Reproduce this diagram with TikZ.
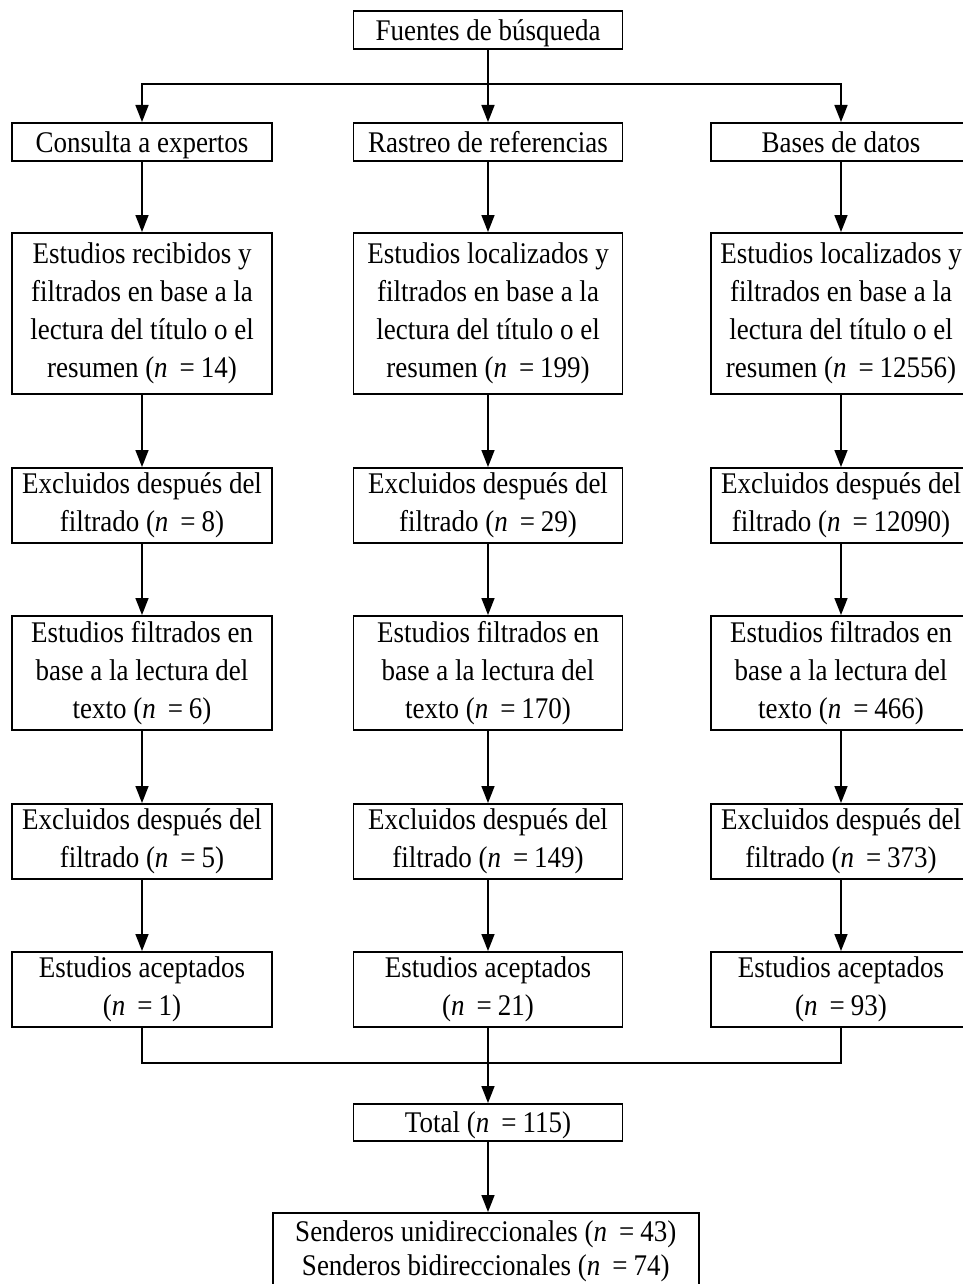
\documentclass[tikz,border=0pt]{standalone}
\usepackage{fontspec}
\setmainfont{Liberation Serif}[FakeStretch=0.9]
\usetikzlibrary{calc,arrows.meta}

\begin{document}
\begin{tikzpicture}[x=1pt, y=-1pt]
\def\nn#1{(\textit{n}\hspace{0.4em}=\hspace{0.2em}#1)}
%styles
\tikzstyle{box}=[rectangle, draw, line width=1.6pt, align=center, inner sep=0pt,
  font=\fontsize{30}{38}\selectfont, anchor=north, minimum width=260pt]
\tikzstyle{wbox}=[box, minimum width=269pt]
\tikzstyle{single}=[text height=27pt, text depth=6pt]
\tikzstyle{line}=[line width=1.6pt]
\tikzstyle{vector}=[line, -{Triangle[length=17pt,width=13pt]}]

\useasboundingbox (0,0) rectangle (962,1284);

%top
\node[wbox, single, minimum height=38pt] (fuentes) at (488,10) {Fuentes de búsqueda};

%sources
\node[box, single, minimum height=38pt] (cons) at (142,122) {Consulta a expertos};
\node[wbox, single, minimum height=38pt] (rast) at (488,122) {Rastreo de referencias};
\node[box, single, minimum height=38pt] (bases) at (841,122) {Bases de datos};

%first filter
\node[box, minimum height=161pt] (rec1) at (142,232) {Estudios recibidos y\\filtrados en base a la\\lectura del título o el\\resumen \nn{14}};
\node[wbox, minimum height=161pt] (rec2) at (488,232) {Estudios localizados y\\filtrados en base a la\\lectura del título o el\\resumen \nn{199}};
\node[box, minimum height=161pt] (rec3) at (841,232) {Estudios localizados y\\filtrados en base a la\\lectura del título o el\\resumen \nn{12556}};

\node[box, minimum height=75pt] (exa1) at (142,467) {Excluidos después del\\filtrado \nn{8}};
\node[wbox, minimum height=75pt] (exa2) at (488,467) {Excluidos después del\\filtrado \nn{29}};
\node[box, minimum height=75pt] (exa3) at (841,467) {Excluidos después del\\filtrado \nn{12090}};

%second filter
\node[box, minimum height=114pt] (fil1) at (142,615) {Estudios filtrados en\\base a la lectura del\\texto \nn{6}};
\node[wbox, minimum height=114pt] (fil2) at (488,615) {Estudios filtrados en\\base a la lectura del\\texto \nn{170}};
\node[box, minimum height=114pt] (fil3) at (841,615) {Estudios filtrados en\\base a la lectura del\\texto \nn{466}};

\node[box, minimum height=75pt] (exb1) at (142,803) {Excluidos después del\\filtrado \nn{5}};
\node[wbox, minimum height=75pt] (exb2) at (488,803) {Excluidos después del\\filtrado \nn{149}};
\node[box, minimum height=75pt] (exb3) at (841,803) {Excluidos después del\\filtrado \nn{373}};

\node[box, minimum height=75pt] (acep1) at (142,951) {Estudios aceptados\\\nn{1}};
\node[wbox, minimum height=75pt] (acep2) at (488,951) {Estudios aceptados\\\nn{21}};
\node[box, minimum height=75pt] (acep3) at (841,951) {Estudios aceptados\\\nn{93}};

%result
\node[wbox, single, minimum height=37pt] (total) at (488,1103) {Total \nn{115}};
\node[box, minimum width=426pt, inner ysep=8pt, anchor=north west,
  font=\fontsize{30}{34}\selectfont] (send) at (272,1212) {Senderos unidireccionales \nn{43}\\Senderos bidireccionales \nn{74}};

%connectors
\coordinate (split) at (488,84);
\coordinate (join) at (488,1063);
\draw[line] (fuentes.south) -- (split);
\draw[vector] (split) -| (cons.north);
\draw[vector] (split) -- (rast.north);
\draw[vector] (split) -| (bases.north);

\draw[vector] (cons) -- (rec1);
\draw[vector] (rast) -- (rec2);
\draw[vector] (bases) -- (rec3);
\draw[vector] (rec1) -- (exa1);
\draw[vector] (rec2) -- (exa2);
\draw[vector] (rec3) -- (exa3);
\draw[vector] (exa1) -- (fil1);
\draw[vector] (exa2) -- (fil2);
\draw[vector] (exa3) -- (fil3);
\draw[vector] (fil1) -- (exb1);
\draw[vector] (fil2) -- (exb2);
\draw[vector] (fil3) -- (exb3);
\draw[vector] (exb1) -- (acep1);
\draw[vector] (exb2) -- (acep2);
\draw[vector] (exb3) -- (acep3);

\draw[line] (acep1.south) |- (join);
\draw[line] (acep3.south) |- (join);
\draw[vector] (acep2.south) -- (total.north);
\draw[vector] (total.south) -- (send.north -| total.south);
\end{tikzpicture}
\end{document}
